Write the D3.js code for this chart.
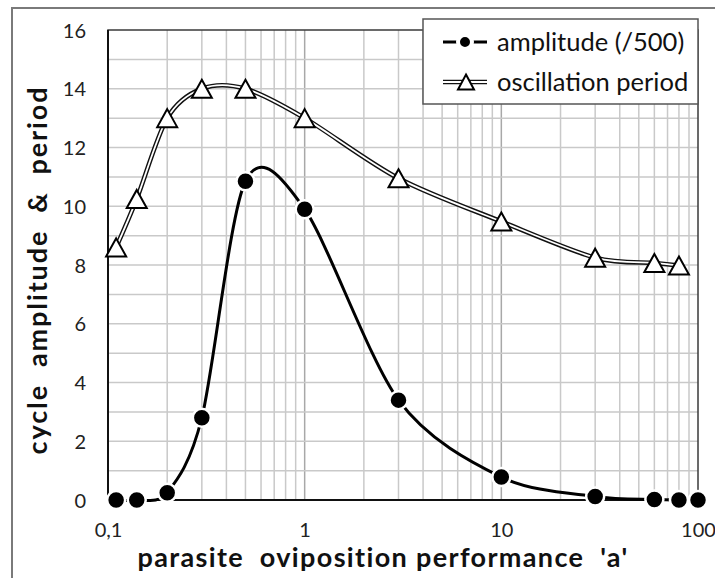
<!DOCTYPE html>
<html><head><meta charset="utf-8">
<script src="https://cdn.jsdelivr.net/npm/d3@7"></script>
<style>body{margin:0;background:#fff}svg{display:block}text{font-family:Lato,"Open Sans",sans-serif}</style>
</head><body><svg id="c" width="715" height="578"></svg>
<script>
const ampX = [0.11, 0.14, 0.2, 0.3, 0.5, 1, 3, 10, 30, 60, 80, 100];
const amplitude = [0, 0, 0.25, 2.8, 10.85, 9.9, 3.4, 0.78, 0.12, 0.02, 0, 0];
const perX = [0.11, 0.14, 0.2, 0.3, 0.5, 1, 3, 10, 30, 60, 80];
const period = [8.6, 10.25, 13.0, 14.0, 14.0, 13.0, 10.95, 9.48, 8.25, 8.07, 7.98];
const xTickVals = [0.1, 1, 10, 100];
const xTickLabels = ["0,1", "1", "10", "100"];
const yTickVals = [0, 2, 4, 6, 8, 10, 12, 14, 16];
const legendLabels = ["amplitude (/500)", "oscillation period"];
const xTitle = "parasite  oviposition performance  'a'";
const yTitle = "cycle  amplitude  &  period";

const svg = d3.select("#c");
const L = 108, R = 698, T = 30, B = 500;
const x = d3.scaleLog().domain([0.1, 100]).range([L, R]);
const y = d3.scaleLinear().domain([0, 16]).range([B, T]);

// outer frame (partially visible)
svg.append("path").attr("d", `M12,578 L12,8 L715,8`).attr("fill","none").attr("stroke","#7a7a7a").attr("stroke-width",2);

// grid
const g = svg.append("g");
const minor = [];
[0.1, 1, 10].forEach(d => { for (let k = 2; k <= 9; k++) minor.push(d * k); });
g.selectAll("line.mx").data(minor).join("line").attr("class","mx")
  .attr("x1", d => x(d)).attr("x2", d => x(d)).attr("y1", T).attr("y2", B)
  .attr("stroke", "#c9c9c9").attr("stroke-width", 1.5);
g.selectAll("line.Mx").data([1, 10]).join("line").attr("class","Mx")
  .attr("x1", d => x(d)).attr("x2", d => x(d)).attr("y1", T).attr("y2", B)
  .attr("stroke", "#a8a8a8").attr("stroke-width", 1.5);
g.selectAll("line.gy").data(d3.range(1, 16)).join("line").attr("class","gy")
  .attr("x1", L).attr("x2", R).attr("y1", d => y(d)).attr("y2", d => y(d))
  .attr("stroke", "#c9c9c9").attr("stroke-width", 1.5);

// plot box
svg.append("rect").attr("x", L).attr("y", T).attr("width", R - L).attr("height", B - T)
  .attr("fill", "none").attr("stroke", "#3a3a3a").attr("stroke-width", 1.5);
svg.append("line").attr("x1", L).attr("x2", L).attr("y1", T).attr("y2", B).attr("stroke","#111").attr("stroke-width",2);
svg.append("line").attr("x1", L).attr("x2", R).attr("y1", B).attr("y2", B).attr("stroke","#111").attr("stroke-width",2);

// axes
const xAxis = d3.axisBottom(x).tickValues(xTickVals).tickFormat((d, i) => xTickLabels[i]).tickSize(0).tickPadding(0);
const xa = svg.append("g").attr("transform", `translate(0,${B})`).call(xAxis);
xa.select(".domain").remove();
xa.selectAll("text").attr("y", 37).attr("dy", 0).attr("font-size", 20).attr("fill", "#222").style("font-family","Lato");
const yAxis = d3.axisLeft(y).tickValues(yTickVals).tickSize(0).tickPadding(0);
const ya = svg.append("g").attr("transform", `translate(${L},0)`).call(yAxis);
ya.select(".domain").remove();
ya.selectAll("text").attr("x", -22).attr("dy", "0.35em").attr("font-size", 20).attr("fill", "#222").style("font-family","Lato");

// titles
svg.append("text").attr("x", 383).attr("y", 567).attr("text-anchor", "middle")
  .attr("font-size", 27).attr("font-weight", "bold").attr("fill", "#111")
  .style("white-space", "pre").style("letter-spacing", "1.35px").text(xTitle);
svg.append("text").attr("transform", "translate(47,270) rotate(-90)").attr("text-anchor", "middle")
  .attr("font-size", 27).attr("font-weight", "bold").attr("fill", "#111")
  .style("white-space", "pre").style("letter-spacing", "1.9px").text(yTitle);

// lines
const perData = perX.map((d, i) => [d, period[i]]);
const ampData = ampX.map((d, i) => [d, amplitude[i]]);
const line = d3.line().x(d => x(d[0])).y(d => y(d[1])).curve(d3.curveCardinal.tension(0.1));
svg.append("path").attr("d", line(perData)).attr("fill", "none").attr("stroke", "#111").attr("stroke-width", 4.6);
svg.append("path").attr("d", line(perData)).attr("fill", "none").attr("stroke", "#fff").attr("stroke-width", 1.8);
svg.append("path").attr("d", line(ampData)).attr("fill", "none").attr("stroke", "#000").attr("stroke-width", 3);

function tri(cx, cy, w, h) {
  return `M${cx},${cy - h / 2} L${cx + w / 2},${cy + h / 2} L${cx - w / 2},${cy + h / 2} Z`;
}
svg.selectAll("path.tri").data(perData).join("path").attr("class", "tri")
  .attr("d", d => tri(x(d[0]), y(d[1]), 20, 18))
  .attr("fill", "#fff").attr("stroke", "#000").attr("stroke-width", 2);
svg.selectAll("circle.amp").data(ampData).join("circle").attr("class", "amp")
  .attr("cx", d => x(d[0])).attr("cy", d => y(d[1])).attr("r", 9)
  .attr("fill", "#000").attr("stroke", "#fff").attr("stroke-width", 2.5);

// legend
const lg = svg.append("g");
lg.append("rect").attr("x", 423).attr("y", 19).attr("width", 275).attr("height", 85)
  .attr("fill", "#fff").attr("stroke", "#555").attr("stroke-width", 1.5);
const rows = [42, 82];
lg.append("line").attr("x1", 443).attr("x2", 487).attr("y1", rows[0]).attr("y2", rows[0]).attr("stroke", "#000").attr("stroke-width", 3);
lg.append("circle").attr("cx", 465).attr("cy", rows[0]).attr("r", 7).attr("fill", "#000").attr("stroke", "#fff").attr("stroke-width", 4);
lg.append("line").attr("x1", 443).attr("x2", 487).attr("y1", rows[1]).attr("y2", rows[1]).attr("stroke", "#111").attr("stroke-width", 4.6);
lg.append("line").attr("x1", 443).attr("x2", 487).attr("y1", rows[1]).attr("y2", rows[1]).attr("stroke", "#fff").attr("stroke-width", 1.8);
lg.append("path").attr("d", tri(466, rows[1], 16, 15)).attr("fill", "#fff").attr("stroke", "#000").attr("stroke-width", 2);
lg.selectAll("text").data(legendLabels).join("text")
  .attr("x", 497).attr("y", (d, i) => rows[i]).attr("dy", "0.35em")
  .attr("font-size", 25.5).attr("fill", "#111").text(d => d);
</script></body></html>
